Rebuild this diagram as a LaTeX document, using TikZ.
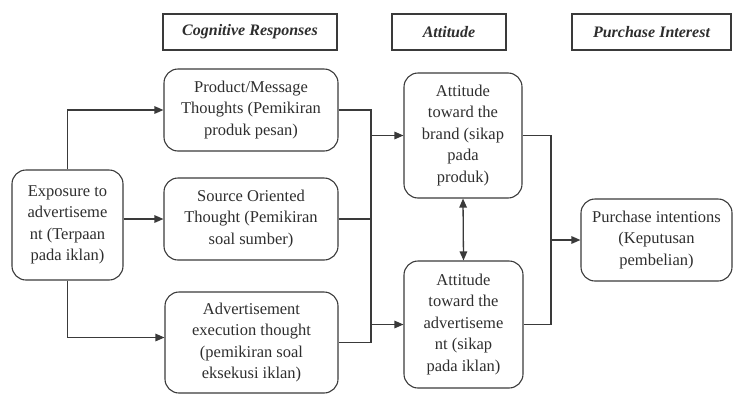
\documentclass[tikz,border=0pt]{standalone}
\usepackage{fontspec}
\setmainfont{Liberation Serif}
\usetikzlibrary{arrows.meta,calc}
\definecolor{ink}{HTML}{2E2E2E}
\definecolor{edge}{HTML}{3A3A3A}
\tikzset{
  hdr/.style={draw=edge, line width=1.1pt, rectangle, align=center, text=ink,
    font=\fontsize{16}{20}\selectfont\bfseries\itshape, inner sep=0pt},
  rbox/.style={draw=edge, line width=1.1pt, rectangle, rounded corners=14pt, align=center, text=ink,
    font=\fontsize{16.5}{21.5}\selectfont, inner sep=0pt},
  conn/.style={draw=edge, line width=1.3pt},
  arr/.style={conn, -{Triangle[length=9pt,width=7.5pt]}},
  darr/.style={conn, {Triangle[length=9pt,width=7.5pt]}-{Triangle[length=9pt,width=7.5pt]}}
}
\begin{document}
\begin{tikzpicture}[x=1pt,y=-1pt]
\useasboundingbox (0,0) rectangle (733,394);
% headers
\node[hdr, minimum width=174pt, minimum height=36pt] (cog) at (250,32) {Cognitive Responses};
\node[hdr, minimum width=114pt, minimum height=36pt] (att) at (449,32) {Attitude};
\node[hdr, minimum width=159pt, minimum height=36pt] (pint) at (651.5,32) {Purchase Interest};
% boxes
\node[rbox, minimum width=111pt, minimum height=110pt] (exp) at (67.5,225) {Exposure to\\advertiseme\\nt (Terpaan\\pada iklan)};
\node[rbox, minimum width=174pt, minimum height=82pt] (prod) at (251,110) {Product/Message\\Thoughts (Pemikiran\\produk pesan)};
\node[rbox, minimum width=174pt, minimum height=82pt] (src) at (251,219) {Source Oriented\\Thought (Pemikiran\\soal sumber)};
\node[rbox, minimum width=173pt, minimum height=101pt] (adv) at (251.5,342.5) {Advertisement\\execution thought\\(pemikiran soal\\eksekusi iklan)};
\node[rbox, minimum width=118pt, minimum height=125pt] (brand) at (463,135.5) {Attitude\\toward the\\brand (sikap\\pada\\produk)};
\node[rbox, minimum width=119pt, minimum height=127pt] (ad) at (463.5,324.5) {Attitude\\toward the\\advertiseme\\nt (sikap\\pada iklan)};
\node[rbox, minimum width=151pt, minimum height=82pt] (purch) at (656.5,240) {Purchase intentions\\(Keputusan\\pembelian)};
% bus coordinates
\coordinate (bus1) at (371,0);
\coordinate (bus2) at (551,0);
% left connectors
\draw[arr] (exp.north) |- (prod.west);
\draw[arr] (exp.east |- src.west) -- (src.west);
\draw[arr] (exp.south) |- ([yshift=5pt]adv.west);
% middle bus
\draw[conn] (prod.east) -| (bus1 |- adv.east) -- (adv.east);
\draw[conn] (src.east) -- (bus1 |- src.east);
\draw[arr] (bus1 |- brand.west) -- (brand.west);
\draw[arr] (bus1 |- ad.west) -- (ad.west);
% right bus
\draw[conn] (brand.east) -| (bus2 |- ad.east) -- (ad.east);
\draw[arr] (bus2 |- purch.west) -- (purch.west);
% double arrow
\draw[darr] (brand.south) -- (ad.north);
\end{tikzpicture}
\end{document}
